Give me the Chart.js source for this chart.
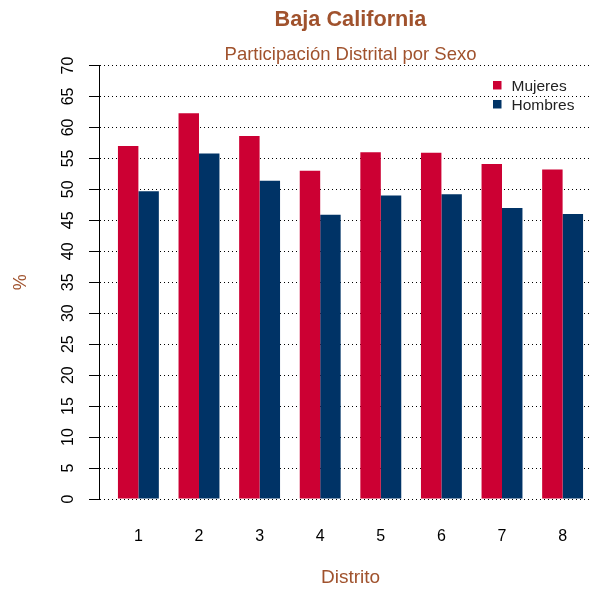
<!DOCTYPE html>
<html>
<head>
<meta charset="utf-8">
<title>Baja California</title>
<script src="https://cdn.jsdelivr.net/npm/chart.js@4/dist/chart.umd.min.js"></script>
<style>
    html, body { margin: 0; padding: 0; background: #fff; overflow: hidden; }
    canvas { display: block; }
</style>
</head>
<body>
<!-- el lienzo es un poco más ancho que la ventana: la región del gráfico queda recortada a la derecha -->
<canvas id="graficaDistritos" width="602" height="591"></canvas>
<script>
// Datos por distrito (% de participación)
var distritos = [1, 2, 3, 4, 5, 6, 7, 8];
var mujeres = [57.0, 62.3, 58.6, 53.0, 56.0, 55.9, 54.1, 53.2];
var hombres = [49.7, 55.8, 51.4, 45.9, 49.0, 49.2, 47.0, 46.0];
var ticksY = [0, 5, 10, 15, 20, 25, 30, 35, 40, 45, 50, 55, 60, 65, 70];

var colorMujeres = '#CC0033';
var colorHombres = '#003366';
var colorTitulo = '#A0522D';

Chart.defaults.font.family = "'Liberation Sans', Arial, Helvetica, sans-serif";
Chart.defaults.color = '#000';

// Leyenda dibujada dentro del área del gráfico (arriba a la derecha)
var leyendaPlugin = {
    id: 'leyenda',
    afterDraw: function(chart) {
        var ctx = chart.ctx;
        var area = chart.chartArea;
        ctx.save();
        ctx.font = '15.5px ' + Chart.defaults.font.family;
        ctx.textBaseline = 'middle';
        ctx.textAlign = 'left';
        chart.data.datasets.forEach(function(ds, i) {
            var cy = area.top + 20 + i * 19;
            ctx.fillStyle = ds.backgroundColor;
            ctx.fillRect(area.right - 109, cy - 4.5, 8.5, 8.5);
            ctx.fillStyle = '#222';
            ctx.fillText(ds.label, area.right - 90.5, cy + 1);
        });
        ctx.restore();
    }
};

var ctx = document.getElementById('graficaDistritos').getContext('2d');
var grafica = new Chart(ctx, {
    type: 'bar',
    data: {
        labels: distritos,
        datasets: [{
            label: 'Mujeres',
            data: mujeres,
            backgroundColor: colorMujeres,
            borderWidth: 0
        }, {
            label: 'Hombres',
            data: hombres,
            backgroundColor: colorHombres,
            borderWidth: 0
        }]
    },
    options: {
        responsive: false,
        animation: false,
        devicePixelRatio: 1,
        layout: { padding: 0 },
        datasets: {
            bar: { categoryPercentage: 0.675, barPercentage: 1 }
        },
        plugins: {
            legend: { display: false },
            tooltip: { enabled: false },
            title: {
                display: true,
                text: 'Baja California',
                color: colorTitulo,
                fullSize: false,
                font: { size: 21.7, weight: 'bold', lineHeight: 1.2 },
                padding: { top: 7.5, bottom: 0 }
            },
            subtitle: {
                display: true,
                text: 'Participación Distrital por Sexo',
                color: colorTitulo,
                fullSize: false,
                font: { size: 18.5, lineHeight: 1.1 },
                padding: { top: 11.6, bottom: 0 }
            }
        },
        scales: {
            x: {
                type: 'linear',
                offset: false,
                min: 0.35,
                max: 8.65,
                afterBuildTicks: function(scale) {
                    scale.ticks = distritos.map(function(d) { return { value: d }; });
                },
                afterFit: function(scale) { scale.height = 92; },
                grid: { display: false, drawTicks: false },
                border: { display: false },
                ticks: {
                    padding: 28,
                    color: '#000',
                    font: { size: 16 }
                },
                title: {
                    display: true,
                    text: 'Distrito',
                    color: colorTitulo,
                    font: { size: 19 },
                    padding: { top: 0, bottom: 2 }
                }
            },
            y: {
                min: 0,
                max: 70,
                afterBuildTicks: function(scale) {
                    scale.ticks = ticksY.map(function(v) { return { value: v }; });
                },
                afterFit: function(scale) { scale.width = 99; },
                grid: {
                    color: '#000',
                    lineWidth: 1,
                    tickLength: 10,
                    tickColor: '#000'
                },
                border: { display: true, color: '#000', width: 1, dash: [1, 3] },
                ticks: {
                    minRotation: 90,
                    maxRotation: 90,
                    crossAlign: 'center',
                    padding: 12,
                    color: '#000',
                    font: { size: 16 }
                },
                title: {
                    display: true,
                    text: '%',
                    color: colorTitulo,
                    font: { size: 18 },
                    padding: { top: 10, bottom: 0 }
                }
            }
        }
    },
    plugins: [leyendaPlugin]
});
</script>
</body>
</html>
